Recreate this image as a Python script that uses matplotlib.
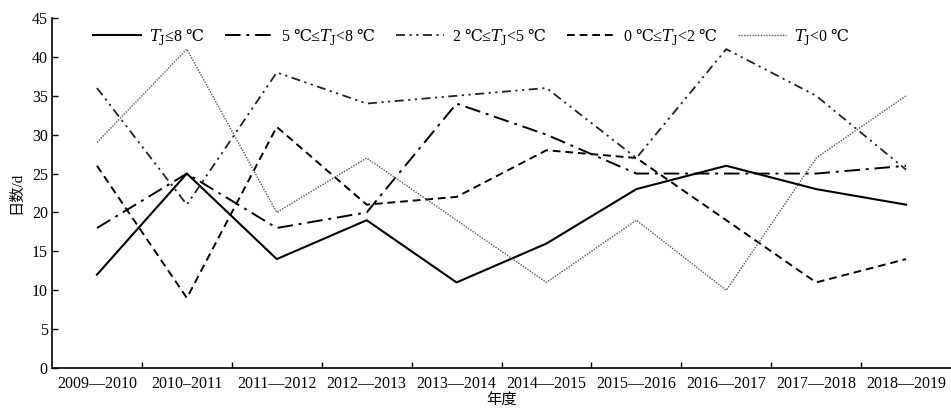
import numpy as np
import matplotlib.pyplot as plt
from matplotlib.ticker import FixedLocator

plt.rcParams['font.family'] = ['Liberation Serif', 'Noto Sans CJK SC', 'DejaVu Sans']
plt.rcParams['mathtext.fontset'] = 'dejavuserif'

# 数据
years = ['2009—2010', '2010–2011', '2011—2012', '2012—2013', '2013—2014',
         '2014—2015', '2015—2016', '2016—2017', '2017—2018', '2018—2019']
t_le8 = [12, 25, 14, 19, 11, 16, 23, 26, 23, 21]
t_5_8 = [18, 25, 18, 20, 34, 30, 25, 25, 25, 26]
t_2_5 = [36, 21, 38, 34, 35, 36, 27, 41, 35, 25.5]
t_0_2 = [26, 9, 31, 21, 22, 28, 27, 19, 11, 14]
t_lt0 = [29, 41, 20, 27, 19, 11, 19, 10, 27, 35]

# ℃ 放进数学模式里，用 DejaVu Serif 显示
C = r'$\mathrm{℃}$'
labels = [r'$T_\mathrm{J}$≤8 ' + C,
          '5 ' + C + r'≤$T_\mathrm{J}$<8 ' + C,
          '2 ' + C + r'≤$T_\mathrm{J}$<5 ' + C,
          '0 ' + C + r'≤$T_\mathrm{J}$<2 ' + C,
          r'$T_\mathrm{J}$<0 ' + C]

fig = plt.figure(figsize=(9.51, 4.15), dpi=100)
ax = fig.add_axes([0.0547, 0.1133, 0.9453, 0.8433])

x = np.arange(len(years))
ax.plot(x, t_le8, color='black', lw=1.5, label=labels[0])
ax.plot(x, t_5_8, color='black', lw=1.4, dashes=(8, 3, 1.5, 3), label=labels[1])
ax.plot(x, t_2_5, color='#222222', lw=1.3, dashes=(5, 2.5, 1.2, 2.5, 1.2, 2.5), label=labels[2])
ax.plot(x, t_0_2, color='black', lw=1.4, dashes=(4, 2.5), label=labels[3])
ax.plot(x, t_lt0, color='#555555', lw=1.0, dashes=(1, 1), label=labels[4])

ax.set_xlim(-0.5, 9.5)
ax.set_ylim(0, 45)
ax.set_yticks(np.arange(0, 46, 5))
ax.set_xticks(x)
ax.set_xticklabels(years, fontsize=11.5)
ax.xaxis.set_minor_locator(FixedLocator(np.arange(0.5, 9, 1)))
ax.tick_params(axis='x', which='major', length=0, pad=6)
ax.tick_params(axis='x', which='minor', direction='in', length=4, width=1)
ax.tick_params(axis='y', direction='in', length=4, width=1, labelsize=11.5, pad=3)
for s in ['top', 'right']:
    ax.spines[s].set_visible(False)
for s in ['left', 'bottom']:
    ax.spines[s].set_linewidth(1.2)

ax.set_ylabel('日数/d', fontsize=11, labelpad=6)
ax.set_xlabel('年度', fontsize=11, labelpad=1)

ax.legend(loc='upper left', bbox_to_anchor=(0.03, 1.015), ncol=5, frameon=False,
          fontsize=11.5, handlelength=3.0, columnspacing=1.3, handletextpad=0.5)

plt.savefig('out.png', dpi=100)
